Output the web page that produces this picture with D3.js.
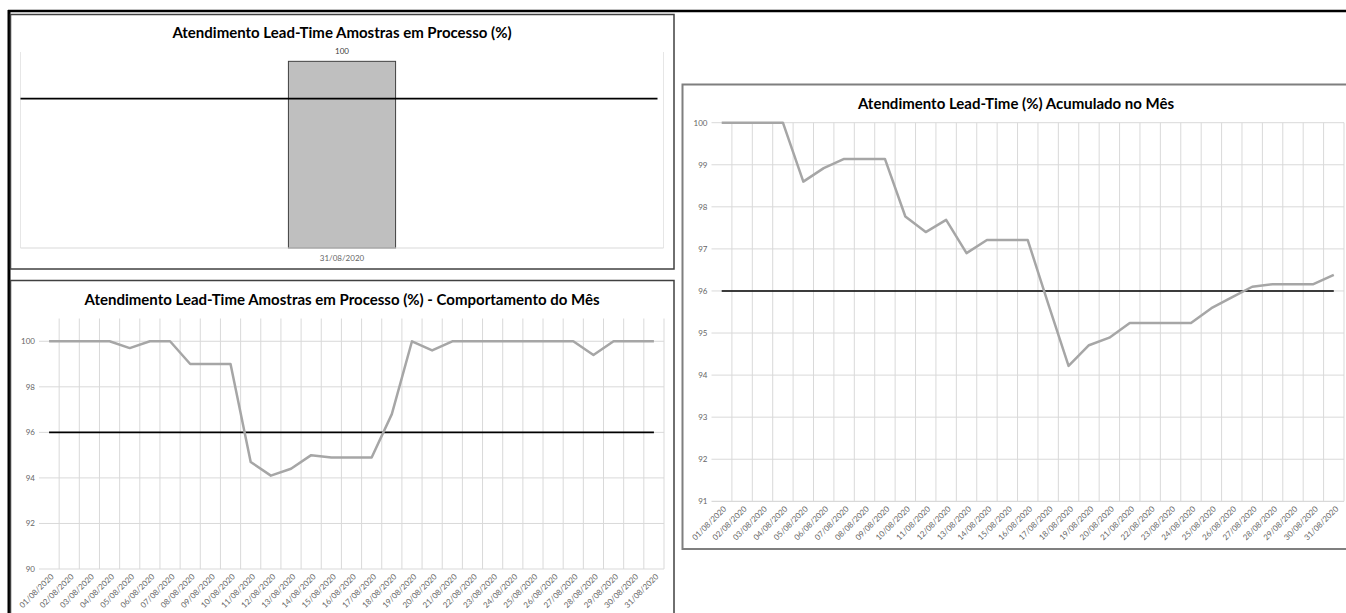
<!DOCTYPE html>
<html>
<head>
<meta charset="utf-8">
<script src="https://cdn.jsdelivr.net/npm/d3@7"></script>
<style>
  body { margin: 0; background: #fff; }
  svg { display: block; }
  text { font-family: Lato, "Open Sans", sans-serif; }
</style>
</head>
<body>
<svg id="board" width="1346" height="613"></svg>
<script>
// ---- data ----
const days = [
  "01/08/2020","02/08/2020","03/08/2020","04/08/2020","05/08/2020","06/08/2020","07/08/2020",
  "08/08/2020","09/08/2020","10/08/2020","11/08/2020","12/08/2020","13/08/2020","14/08/2020",
  "15/08/2020","16/08/2020","17/08/2020","18/08/2020","19/08/2020","20/08/2020","21/08/2020",
  "22/08/2020","23/08/2020","24/08/2020","25/08/2020","26/08/2020","27/08/2020","28/08/2020",
  "29/08/2020","30/08/2020","31/08/2020"
];
const dailyValues = [
  100, 100, 100, 100, 99.7, 100, 100, 99.0, 99.0, 99.0, 94.7, 94.1, 94.4, 95.0, 94.9, 94.9,
  94.9, 96.8, 100, 99.6, 100, 100, 100, 100, 100, 100, 100, 99.4, 100, 100, 100
];
const cumulativeValues = [
  100, 100, 100, 100, 98.6, 98.92, 99.14, 99.14, 99.14, 97.77, 97.4, 97.69, 96.9, 97.21, 97.21,
  97.21, 95.7, 94.22, 94.71, 94.89, 95.24, 95.24, 95.24, 95.24, 95.59, 95.85, 96.1, 96.16, 96.16,
  96.16, 96.38
];
const barCategories = ["31/08/2020"];
const barValues = [100];
const targetValue = 96;
const dailyTicks = [90, 92, 94, 96, 98, 100];
const cumulativeTicks = [91, 92, 93, 94, 95, 96, 97, 98, 99, 100];

const titleBar = "Atendimento Lead-Time Amostras em Processo (%)";
const titleDaily = "Atendimento Lead-Time Amostras em Processo (%) - Comportamento do Mês";
const titleCumulative = "Atendimento Lead-Time (%) Acumulado no Mês";

// ---- styles ----
const GRID = "#d9d9d9";
const LINE = "#a6a6a6";
const LABEL = "#666666";

const svg = d3.select("#board");

// outer sheet frame
svg.append("line").attr("x1", 8).attr("x2", 1346).attr("y1", 11).attr("y2", 11)
  .attr("stroke", "#000").attr("stroke-width", 2.5);
svg.append("line").attr("x1", 9).attr("x2", 9).attr("y1", 10).attr("y2", 613)
  .attr("stroke", "#000").attr("stroke-width", 3);

// chart boxes
svg.append("rect").attr("x", 10.5).attr("y", 14.5).attr("width", 663.5).attr("height", 254.5)
  .attr("fill", "#fff").attr("stroke", "#404040").attr("stroke-width", 1.5);
svg.append("rect").attr("x", 10.5).attr("y", 280.5).attr("width", 663.5).attr("height", 340)
  .attr("fill", "#fff").attr("stroke", "#404040").attr("stroke-width", 1.5);
svg.append("rect").attr("x", 682.5).attr("y", 84.5).attr("width", 680).attr("height", 464.5)
  .attr("fill", "#fff").attr("stroke", "#7f7f7f").attr("stroke-width", 2);

function title(txt, cx, cy, size) {
  svg.append("text").attr("x", cx).attr("y", cy).attr("text-anchor", "middle")
    .attr("dominant-baseline", "central").attr("font-weight", "bold")
    .attr("font-size", size).attr("fill", "#000").text(txt);
}

// ---- bar chart: single day ----
(function () {
  const x = d3.scaleBand().domain(barCategories).range([20.5, 663.5]).padding(0);
  const y = d3.scaleLinear().domain([80, 101]).range([248, 52]);
  const g = svg.append("g");

  // category boundary gridlines
  const edges = [x.range()[0], x.range()[1]];
  g.selectAll(".vg").data(edges).join("line")
    .attr("x1", d => d).attr("x2", d => d).attr("y1", y.range()[1]).attr("y2", y.range()[0])
    .attr("stroke", "#e6e6e6").attr("stroke-width", 1);

  const bw = x.bandwidth() / 6;
  g.selectAll(".bar").data(barValues).join("rect")
    .attr("x", (d, i) => x(barCategories[i]) + x.bandwidth() / 2 - bw / 2)
    .attr("width", bw)
    .attr("y", d => y(d))
    .attr("height", d => y.range()[0] - y(d))
    .attr("fill", "#bfbfbf").attr("stroke", "#404040").attr("stroke-width", 1);

  g.selectAll(".lbl").data(barValues).join("text")
    .attr("x", (d, i) => x(barCategories[i]) + x.bandwidth() / 2)
    .attr("y", d => y(d) - 10)
    .attr("text-anchor", "middle").attr("dominant-baseline", "central")
    .attr("font-size", 8).attr("fill", "#404040").text(d => d);

  // baseline axis
  g.append("line").attr("x1", x.range()[0]).attr("x2", x.range()[1])
    .attr("y1", y.range()[0]).attr("y2", y.range()[0]).attr("stroke", GRID).attr("stroke-width", 1.2);

  // target
  g.append("line").attr("x1", x.range()[0]).attr("x2", x.range()[1] - 6)
    .attr("y1", y(targetValue)).attr("y2", y(targetValue)).attr("stroke", "#000").attr("stroke-width", 1.6);

  g.selectAll(".xl").data(barCategories).join("text")
    .attr("x", d => x(d) + x.bandwidth() / 2).attr("y", y.range()[0] + 10)
    .attr("text-anchor", "middle").attr("dominant-baseline", "central")
    .attr("font-size", 8).attr("fill", LABEL).text(d => d);

  title(titleBar, 342, 32, 15);
})();

// ---- line chart helper ----
function lineChart(opt) {
  const x = d3.scaleBand().domain(days).range(opt.xr).padding(0);
  const y = d3.scaleLinear().domain(opt.domain).range(opt.yr);
  const g = svg.append("g");
  const cx = d => x(d) + x.bandwidth() / 2;

  // horizontal gridlines
  g.selectAll(".hg").data(opt.ticks.slice(1)).join("line")
    .attr("x1", opt.xr[0]).attr("x2", opt.xr[1])
    .attr("y1", d => y(d)).attr("y2", d => y(d))
    .attr("stroke", GRID).attr("stroke-width", 1);

  // vertical gridlines at category boundaries
  g.selectAll(".vg").data(days.slice(1).concat(["__end"])).join("line")
    .attr("x1", d => d === "__end" ? opt.xr[1] : x(d))
    .attr("x2", d => d === "__end" ? opt.xr[1] : x(d))
    .attr("y1", opt.yr[1]).attr("y2", opt.yr[0])
    .attr("stroke", GRID).attr("stroke-width", 1);

  // category axis
  g.append("line").attr("x1", opt.xr[0]).attr("x2", opt.xr[1])
    .attr("y1", opt.yr[0]).attr("y2", opt.yr[0]).attr("stroke", GRID).attr("stroke-width", 1.2);

  // value labels
  g.selectAll(".yl").data(opt.ticks).join("text")
    .attr("x", opt.xr[0] - 4).attr("y", d => y(d))
    .attr("text-anchor", "end").attr("dominant-baseline", "central")
    .attr("font-size", 8).attr("fill", LABEL).text(d => d);

  // date labels
  g.selectAll(".xl").data(days).join("text")
    .attr("text-anchor", "end").attr("dominant-baseline", "central")
    .attr("transform", d => `translate(${cx(d) + 3},${opt.yr[0] + 6}) rotate(-45)`)
    .attr("font-size", 8).attr("fill", LABEL).text(d => d);

  // target line
  g.append("line").attr("x1", cx(days[0])).attr("x2", cx(days[days.length - 1]))
    .attr("y1", y(targetValue)).attr("y2", y(targetValue))
    .attr("stroke", "#000").attr("stroke-width", 1.6);

  // series
  const line = d3.line().x((d, i) => cx(days[i])).y(d => y(d));
  g.append("path").datum(opt.values).attr("d", line)
    .attr("fill", "none").attr("stroke", LINE).attr("stroke-width", 2.5)
    .attr("stroke-linejoin", "round");

  title(opt.title, opt.tx, opt.ty, opt.tsize);
}

lineChart({
  values: dailyValues, ticks: dailyTicks, domain: [90, 101],
  xr: [39, 664], yr: [569, 318.5],
  title: titleDaily, tx: 342, ty: 299, tsize: 15
});

lineChart({
  values: cumulativeValues, ticks: cumulativeTicks, domain: [91, 100],
  xr: [711.5, 1344], yr: [501.3, 122.7],
  title: titleCumulative, tx: 1016, ty: 103, tsize: 15
});
</script>
</body>
</html>
